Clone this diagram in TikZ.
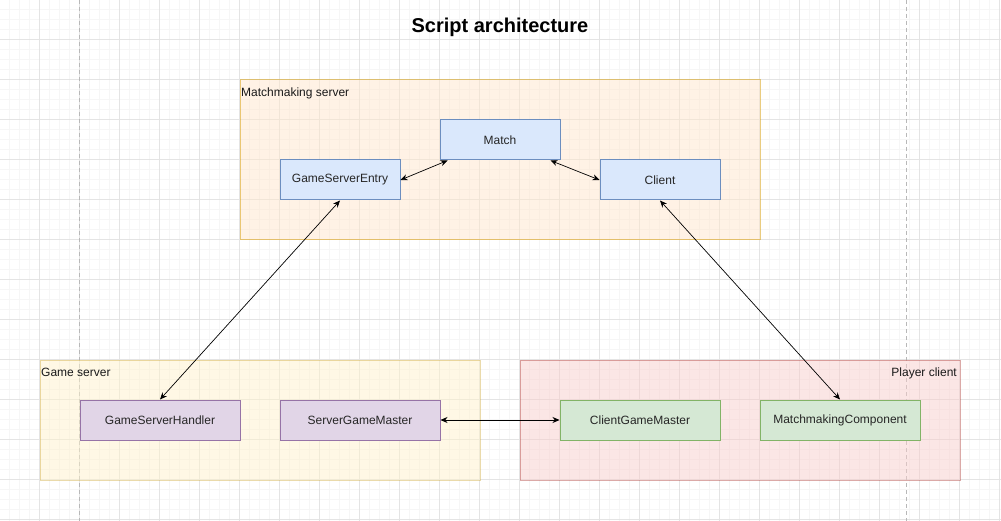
\documentclass[tikz,border=0pt]{standalone}
\usepackage{fontspec}
\setmainfont{Liberation Sans}
\usetikzlibrary{arrows.meta}
\definecolor{gridminor}{HTML}{F6F6F6}
\definecolor{gridmajor}{HTML}{E4E4E4}
\definecolor{guide}{HTML}{B8B8B8}
\definecolor{orfill}{HTML}{FFE6CC}
\definecolor{ordraw}{HTML}{D79B00}
\definecolor{yefill}{HTML}{FFF2CC}
\definecolor{yedraw}{HTML}{D6B656}
\definecolor{refill}{HTML}{F8CECC}
\definecolor{redraw}{HTML}{B85450}
\definecolor{blfill}{HTML}{DAE8FC}
\definecolor{bldraw}{HTML}{6C8EBF}
\definecolor{pufill}{HTML}{E1D5E7}
\definecolor{pudraw}{HTML}{9673A6}
\definecolor{grfill}{HTML}{D5E8D4}
\definecolor{grdraw}{HTML}{82B366}
\begin{document}
\begin{tikzpicture}[x=1pt,y=-1pt,
  box/.style={draw, line width=1pt, minimum height=40pt, inner sep=0pt, font=\fontsize{12}{14}\selectfont, text=black!85},
  bluebox/.style={box, fill=blfill, draw=bldraw, minimum width=120pt},
  purplebox/.style={box, fill=pufill, draw=pudraw, minimum width=160pt},
  greenbox/.style={box, fill=grfill, draw=grdraw, minimum width=160pt},
  container/.style={line width=1pt, fill opacity=0.5, draw opacity=0.5},
  clabel/.style={font=\fontsize{12}{14}\selectfont, inner sep=0pt, text=black!90},
  link/.style={line width=0.7pt, {Stealth[length=7pt,width=6pt]}-{Stealth[length=7pt,width=6pt]}}
]
\useasboundingbox (0,0) rectangle (1001,521);
\fill[white] (0,0) rectangle (1001,521);
% grid
\foreach \i in {10,20,...,1000} {\draw[gridminor, line width=0.8pt] (\i-0.5,0) -- (\i-0.5,521);}
\foreach \i in {10,20,...,520} {\draw[gridminor, line width=0.8pt] (0,\i-0.5) -- (1001,\i-0.5);}
\foreach \i in {0,40,...,1000} {\draw[gridmajor, line width=0.8pt] (\i-0.5,0) -- (\i-0.5,521);}
\foreach \i in {0,40,...,520} {\draw[gridmajor, line width=0.8pt] (0,\i-0.5) -- (1001,\i-0.5);}
% guides
\draw[guide, line width=0.8pt, dash pattern=on 4pt off 3pt] (79.5,0) -- (79.5,521);
\draw[guide, line width=0.8pt, dash pattern=on 4pt off 3pt] (906.5,0) -- (906.5,521);
% containers
\draw[container, fill=orfill, draw=ordraw] (240,80) rectangle (760,240);
\draw[container, fill=yefill, draw=yedraw] (40,360) rectangle (480,480);
\draw[container, fill=refill, draw=redraw] (520,360) rectangle (960,480);
\node[clabel, anchor=north west] (lmm) at (241,88) {Matchmaking server};
\node[clabel, anchor=north west] (lgs) at (41,368) {Game server};
\node[clabel, anchor=north east] (lpc) at (957,368) {Player client};
% title
\node[font=\bfseries\fontsize{20}{24}\selectfont] (title) at (500,27) {Script architecture};
% nodes
\node[bluebox] (match) at (500,140) {Match};
\node[bluebox] (gse) at (340,180) {GameServerEntry};
\node[bluebox] (client) at (660,180) {Client};
\node[purplebox] (gsh) at (160,420) {GameServerHandler};
\node[purplebox] (sgm) at (360,420) {ServerGameMaster};
\node[greenbox] (cgm) at (640,420) {ClientGameMaster};
\node[greenbox] (mmc) at (840,420) {MatchmakingComponent};
% links
\draw[link] ([xshift=8pt]match.south west) -- (gse.east);
\draw[link] ([xshift=-10pt]match.south east) -- (client.west);
\draw[link] (gse.south) -- (gsh.north);
\draw[link] (client.south) -- (mmc.north);
\draw[link] (sgm.east) -- (cgm.west);
\end{tikzpicture}
\end{document}
